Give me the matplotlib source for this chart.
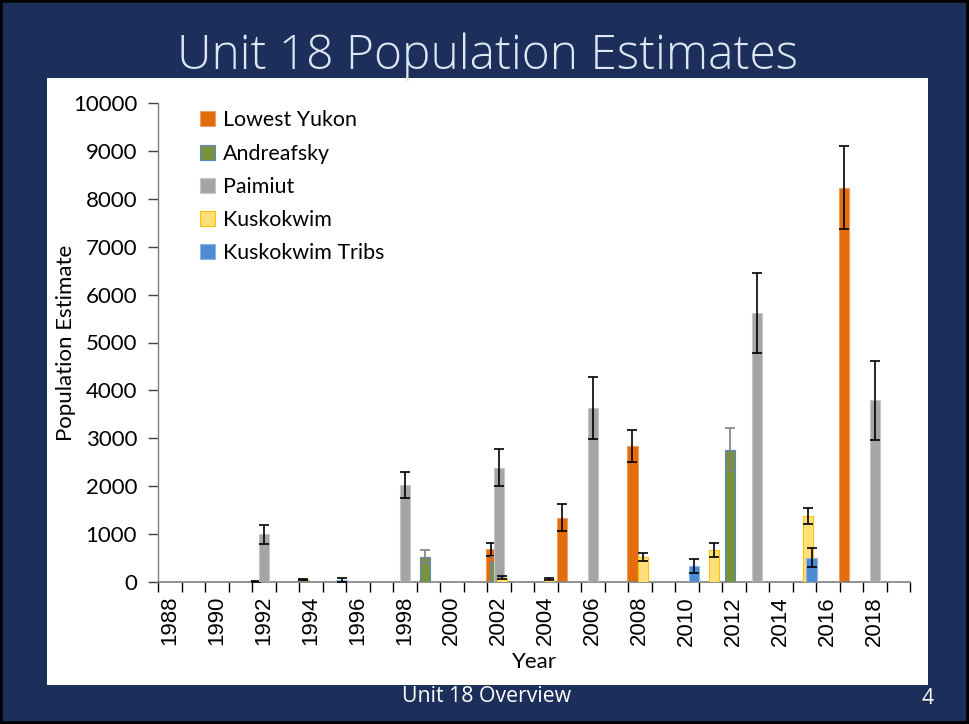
import numpy as np
import matplotlib.pyplot as plt
from matplotlib.patches import Rectangle

# Dados
lowest_yukon_years = [1992, 1994, 2002, 2005, 2008, 2017]
lowest_yukon = [20, 50, 680, 1340, 2840, 8230]
lowest_yukon_err = [10, 15, 140, 280, 340, 865]

andreafsky_years = [1999, 2002, 2012]
andreafsky = [530, 420, 2760]
andreafsky_err = [140, 100, 450]

paimiut_years = [1992, 1998, 2002, 2006, 2013, 2018]
paimiut = [1000, 2030, 2390, 3630, 5610, 3790]
paimiut_err = [200, 270, 380, 650, 835, 820]

kuskokwim_years = [2002, 2004, 2008, 2011, 2015]
kuskokwim = [90, 60, 520, 670, 1380]
kuskokwim_err = [30, 25, 90, 145, 165]

tribs_years = [1995, 2010, 2015]
tribs = [40, 340, 510]
tribs_err = [40, 150, 200]

tick_years = list(range(1988, 2019, 2))

series = [
    ("Lowest Yukon", lowest_yukon_years, lowest_yukon, lowest_yukon_err, "#E46C0A", "#F0A060", "black"),
    ("Andreafsky", andreafsky_years, andreafsky, andreafsky_err, "#77933C", "#5B87C6", "#808080"),
    ("Paimiut", paimiut_years, paimiut, paimiut_err, "#A5A5A5", "#C8C8C8", "black"),
    ("Kuskokwim", kuskokwim_years, kuskokwim, kuskokwim_err, "#FFE07A", "#FFC000", "black"),
    ("Kuskokwim Tribs", tribs_years, tribs, tribs_err, "#4F8BD4", "#8DB4E2", "black"),
]

navy = "#1c2f5a"
fig = plt.figure(figsize=(9.69, 7.24), dpi=100, facecolor=navy)

# borda preta do slide
fig.patches.append(Rectangle((0, 0), 1, 1, transform=fig.transFigure,
                             fill=False, edgecolor="black", linewidth=4,
                             zorder=-2))
# painel branco do gráfico
fig.patches.append(Rectangle((47 / 969, 1 - 685 / 724), 881 / 969, 607 / 724,
                             transform=fig.transFigure, facecolor="white",
                             edgecolor="none", zorder=-1))

fig.text(0.503, 1 - 57 / 724, "Unit 18 Population Estimates", ha="center",
         va="center", fontsize=34.5, color="#dce6f4", family="Open Sans",
         fontweight="light")
fig.text(0.502, 1 - 696 / 724, "Unit 18 Overview", ha="center", va="center",
         fontsize=15.3, color="white", family="Open Sans")
fig.text(928 / 969, 1 - 698 / 724, "4", ha="center", va="center",
         fontsize=15.3, color="white", family="Open Sans")

ax = fig.add_axes([158 / 969, 1 - 582 / 724, 752 / 969, 479 / 724])
ax.set_facecolor("none")

width = 0.43
step = 0.155
for i, (name, yrs, vals, errs, fc, ec, errc) in enumerate(series):
    x = np.array(yrs) + (i - 2) * step
    ax.bar(x, vals, width=width, color=fc, edgecolor=ec, linewidth=0.8,
           label=name, zorder=2 + i)
    ax.errorbar(x, vals, yerr=errs, fmt="none", ecolor=errc, elinewidth=1.2,
                capsize=3.5, capthick=1.2, zorder=3 + i)

ax.set_xlim(1987.5, 2019.5)
ax.set_ylim(0, 10000)
ax.set_xticks(np.arange(1987.5, 2020, 1), minor=False)
ax.set_xticklabels([])
ax.set_xticks(tick_years, minor=True)
ax.set_xticklabels([str(y) for y in tick_years], minor=True, rotation=90,
                   family="Liberation Sans", fontsize=16)
ax.tick_params(axis="x", which="major", length=7, width=1, color="black",
               direction="out")
ax.tick_params(axis="x", which="minor", length=0, pad=10)
ax.set_yticks(np.arange(0, 10001, 1000))
ax.tick_params(axis="y", length=7, width=1, color="#404040", labelsize=16,
               pad=8)
for lab in ax.get_yticklabels():
    lab.set_family("Lato")

for s in ["top", "right"]:
    ax.spines[s].set_visible(False)
ax.spines["left"].set_color("#7f7f7f")
ax.spines["bottom"].set_color("#7f7f7f")
ax.spines["left"].set_linewidth(1)
ax.spines["bottom"].set_linewidth(1.2)

ax.set_ylabel("Population Estimate", family="Lato", fontsize=16)
ax.yaxis.set_label_coords((76 - 158) / 752, 0.5)
ax.set_xlabel("Year", family="Lato", fontsize=16)
ax.xaxis.set_label_coords(0.5, -(652 - 582) / 479)

leg = ax.legend(loc="upper left", bbox_to_anchor=(0.03, 1.025), frameon=False,
                prop={"family": "Lato", "size": 15.4}, handlelength=0.7,
                handleheight=0.7, handletextpad=0.4, labelspacing=0.62)

plt.savefig("out.png", dpi=100, facecolor=navy)
